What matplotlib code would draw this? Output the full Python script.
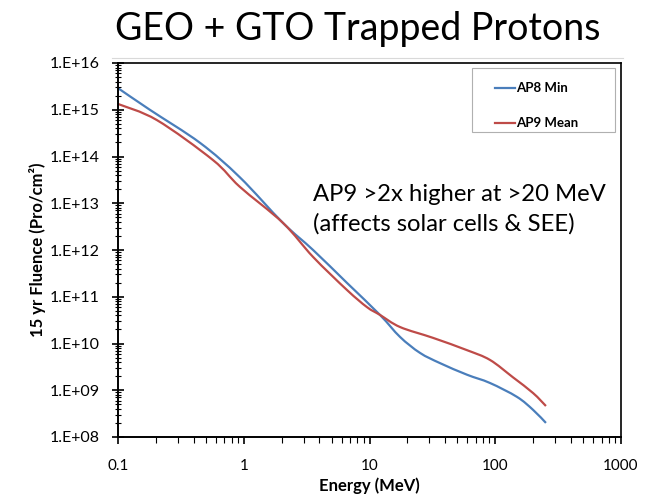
import matplotlib
matplotlib.use("Agg")
import matplotlib.pyplot as plt
from matplotlib.ticker import FixedLocator, LogLocator, NullFormatter
from matplotlib.lines import Line2D
from matplotlib.patches import Rectangle, PathPatch
from matplotlib.path import Path
import numpy as np

plt.rcParams['font.family'] = ['Lato', 'DejaVu Sans']

# Energy grid (MeV) and 15-year proton fluence (protons/cm^2)
ap8_energy = [0.1, 0.18, 0.45, 0.93, 2.05, 3.56, 6.63, 12.1, 17.5, 25.2, 36.4,
              59.6, 90.8, 149, 200, 253]
ap8_fluence = [2.9e15, 9.9e14, 1.95e14, 3.6e13, 3.8e12, 1.0e12, 1.97e11, 4.1e10,
               1.38e10, 6.3e9, 3.8e9, 2.15e9, 1.43e9, 7.2e8, 3.8e8, 2.0e8]

ap9_energy = [0.1, 0.204, 0.569, 0.93, 2.05, 3.56, 6.63, 9.55, 12.1, 17.5, 32,
              59.6, 90.8, 138, 200, 253]
ap9_fluence = [1.33e15, 6.0e14, 8.4e13, 2.25e13, 3.8e12, 7.1e11, 1.39e11, 6.0e10,
               4.1e10, 2.25e10, 1.32e10, 7.2e9, 4.45e9, 1.9e9, 8.7e8, 4.6e8]

series_names = ["AP8 Min", "AP9 Mean"]
series_colors = ["#4A7EBB", "#BE4B48"]

y_tick_values = [1e8, 1e9, 1e10, 1e11, 1e12, 1e13, 1e14, 1e15, 1e16]
y_tick_labels = ["1.E+08", "1.E+09", "1.E+10", "1.E+11", "1.E+12",
                 "1.E+13", "1.E+14", "1.E+15", "1.E+16"]
x_tick_values = [0.1, 1, 10, 100, 1000]
x_tick_labels = ["0.1", "1", "10", "100", "1000"]

W, H = 665, 499


def fx(px):
    return px / W


def fy(py):
    return 1 - py / H


def smoothed_path(xs, ys):
    """Smoothed-line path (Catmull-Rom Beziers built in log-log space)."""
    lx, ly = np.log10(xs), np.log10(ys)
    pts = np.column_stack([lx, ly])
    n = len(pts)
    verts = [pts[0]]
    codes = [Path.MOVETO]
    for i in range(n - 1):
        p0 = pts[max(i - 1, 0)]
        p1 = pts[i]
        p2 = pts[i + 1]
        p3 = pts[min(i + 2, n - 1)]
        c1 = p1 + (p2 - p0) / 6.0
        c2 = p2 - (p3 - p1) / 6.0
        verts += [c1, c2, p2]
        codes += [Path.CURVE4] * 3
    verts = 10 ** np.array(verts)
    return Path(verts, codes)


fig = plt.figure(figsize=(W / 100, H / 100), dpi=100)
ax = fig.add_axes([fx(118), fy(437), 503 / W, 374 / H])

for xs, ys, color in [(ap8_energy, ap8_fluence, series_colors[0]),
                      (ap9_energy, ap9_fluence, series_colors[1])]:
    ax.add_patch(PathPatch(smoothed_path(xs, ys), fill=False, edgecolor=color,
                           lw=1.6, capstyle="butt", joinstyle="round"))

ax.set_xscale("log")
ax.set_yscale("log")
ax.set_xlim(0.1, 1000)
ax.set_ylim(1e8, 1e16)

ax.yaxis.set_major_locator(FixedLocator(y_tick_values))
ax.set_yticklabels(y_tick_labels, fontsize=11.5)
ax.yaxis.set_minor_locator(LogLocator(base=10, subs=np.arange(2, 10)))
ax.yaxis.set_minor_formatter(NullFormatter())
ax.xaxis.set_major_locator(FixedLocator(x_tick_values))
ax.set_xticklabels(x_tick_labels, fontsize=11)
ax.xaxis.set_minor_locator(LogLocator(base=10, subs=np.arange(2, 10)))
ax.xaxis.set_minor_formatter(NullFormatter())

ax.tick_params(axis="y", which="major", direction="inout", length=8, width=1.2, pad=9)
ax.tick_params(axis="y", which="minor", direction="inout", length=4, width=0.8)
ax.tick_params(axis="x", which="major", direction="out", length=5, width=1.2, pad=11)
ax.tick_params(axis="x", which="minor", direction="out", length=4, width=0.8)

for side in ["left", "bottom"]:
    ax.spines[side].set_linewidth(1.4)
for side in ["top", "right"]:
    ax.spines[side].set_linewidth(1.2)

ax.set_xlabel("Energy (MeV)", fontsize=12, fontweight="bold", labelpad=3)
ax.set_ylabel("15 yr Fluence (Pro/cm²)", fontsize=12, fontweight="bold", labelpad=3)

# Legend box with short line keys
fig.add_artist(Rectangle((fx(472), fy(132)), (615 - 472) / W, (132 - 68) / H,
                         transform=fig.transFigure, facecolor="white",
                         edgecolor="#B0B0B0", lw=0.8))
for name, color, row_y in zip(series_names, series_colors, [88, 123]):
    fig.add_artist(Line2D([fx(495), fx(515)], [fy(row_y), fy(row_y)],
                          color=color, lw=1.6))
    fig.text(fx(516), fy(row_y), name, ha="left", va="center",
             fontsize=9.5, fontweight="bold")

fig.text(fx(313), fy(201), "AP9 >2x higher at >20 MeV", ha="left",
         va="baseline", fontsize=17.2)
fig.text(fx(313), fy(231), "(affects solar cells & SEE)", ha="left",
         va="baseline", fontsize=17.2)

fig.text(fx(358), fy(40), "GEO + GTO Trapped Protons", ha="center",
         va="baseline", fontsize=27)

fig.add_artist(Line2D([fx(112), fx(623)], [fy(58), fy(58)],
                      color="#D9D9D9", lw=0.8))

fig.savefig("out.png", dpi=100)
